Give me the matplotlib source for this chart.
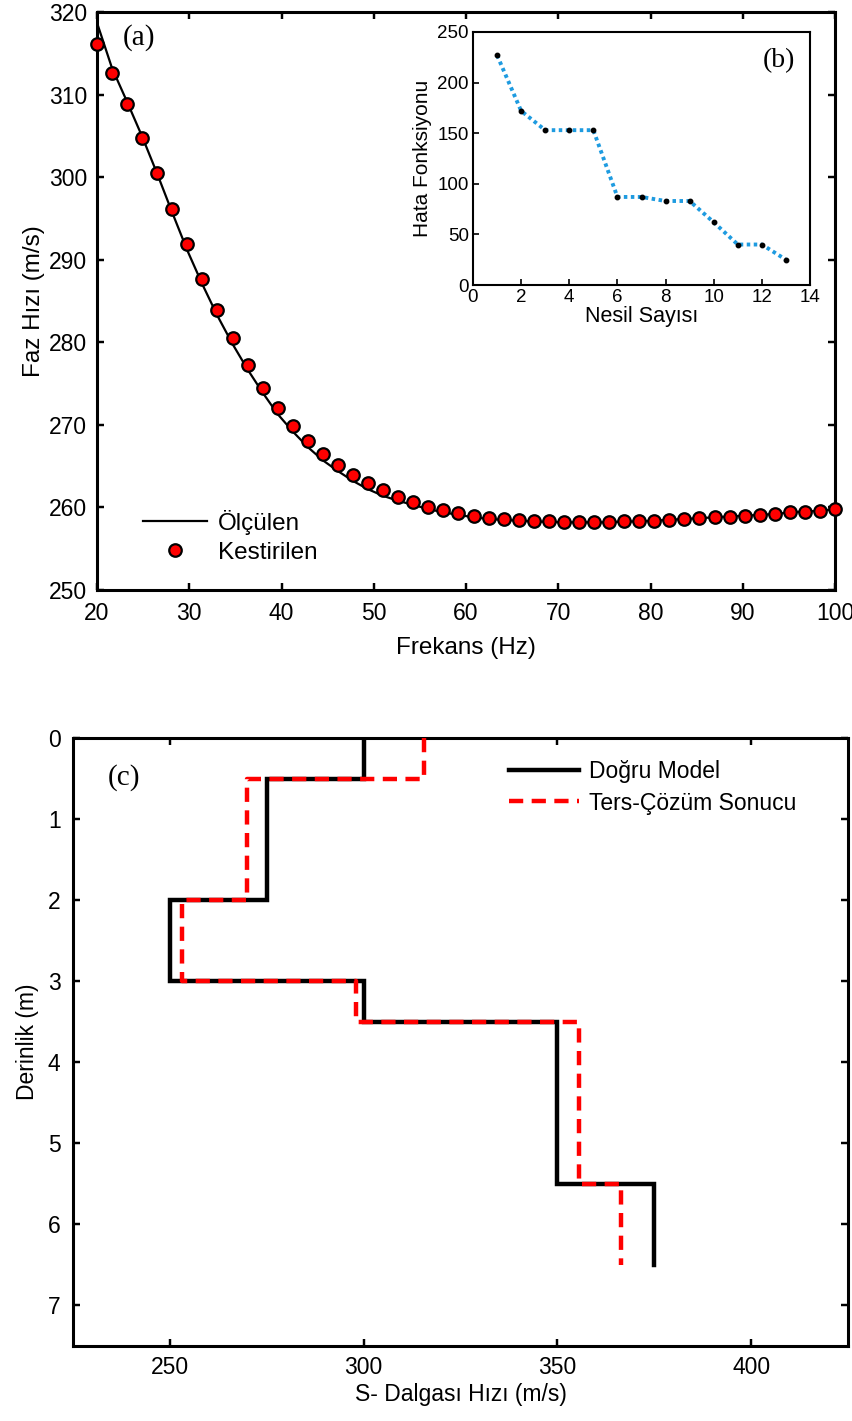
import matplotlib
matplotlib.use("Agg")
import matplotlib.pyplot as plt
import numpy as np

plt.rcParams['font.family'] = ['Liberation Sans', 'DejaVu Sans']

# ---------------- data ----------------
freq_hz = [20.00, 21.63, 23.27, 24.90, 26.53, 28.16, 29.80, 31.43, 33.06, 34.69,
           36.33, 37.96, 39.59, 41.22, 42.86, 44.49, 46.12, 47.76, 49.39, 51.02,
           52.65, 54.29, 55.92, 57.55, 59.18, 60.82, 62.45, 64.08, 65.71, 67.35,
           68.98, 70.61, 72.24, 73.88, 75.51, 77.14, 78.78, 80.41, 82.04, 83.67,
           85.31, 86.94, 88.57, 90.20, 91.84, 93.47, 95.10, 96.73, 98.37, 100.00]

estimated_vel = [316.1, 312.6, 308.9, 304.8, 300.5, 296.2, 291.9, 287.7, 283.9, 280.5,
                 277.3, 274.5, 272.1, 269.9, 268.0, 266.5, 265.1, 263.9, 262.9, 262.1,
                 261.3, 260.7, 260.1, 259.7, 259.3, 259.0, 258.7, 258.6, 258.5, 258.4,
                 258.3, 258.2, 258.2, 258.2, 258.2, 258.3, 258.3, 258.4, 258.5, 258.6,
                 258.7, 258.8, 258.9, 259.0, 259.1, 259.2, 259.4, 259.5, 259.6, 259.8]

measured_vel = [318.7, 313.2, 309.1, 304.9, 300.4, 295.7, 291.1, 287.0, 283.2, 279.8,
                276.7, 273.9, 271.3, 269.2, 267.3, 265.7, 264.4, 263.2, 262.2, 261.4,
                260.8, 260.3, 259.8, 259.4, 259.1, 258.8, 258.6, 258.5, 258.4, 258.3,
                258.25, 258.2, 258.2, 258.2, 258.2, 258.3, 258.3, 258.4, 258.5, 258.6,
                258.7, 258.8, 258.9, 259.0, 259.1, 259.2, 259.4, 259.5, 259.6, 259.8]

generation = [1, 2, 3, 4, 5, 6, 7, 8, 9, 10, 11, 12, 13]
misfit = [227, 172, 153, 153, 153, 87, 87, 83, 83, 62, 40, 40, 25]

# layer model: layer top/bottom depths and velocities
layer_top = [0.0, 0.5, 2.0, 3.0, 3.5, 5.5]
layer_bot = [0.5, 2.0, 3.0, 3.5, 5.5, 6.5]
true_vs = [300, 275, 250, 300, 350, 375]
inv_vs = [315.5, 270, 253, 298, 355.5, 366.5]

labels_a = ['Ölçülen', 'Kestirilen']
labels_c = ['Doğru Model', 'Ters-Çözüm Sonucu']


def step_profile(tops, bots, vs):
    xs, ys = [], []
    for t, b, v in zip(tops, bots, vs):
        xs += [v, v]
        ys += [t, b]
    return xs, ys


W, H = 852, 1421
fig = plt.figure(figsize=(W / 100, H / 100), dpi=100)


def style_axes(ax, lw=2.2, tick_len=5, labelsize=16.5, allsides=True, pad=7):
    for s in ax.spines.values():
        s.set_linewidth(lw)
    ax.tick_params(direction='in', length=tick_len, width=lw * 0.8,
                   labelsize=labelsize, top=allsides, right=allsides, pad=pad)


# ---------------- panel (a) ----------------
ax_a = fig.add_axes([97 / W, 1 - 590 / H, 738 / W, 578 / H])
ax_a.plot(freq_hz, measured_vel, color='black', lw=1.6, label=labels_a[0], zorder=2)
ax_a.plot(freq_hz, estimated_vel, linestyle='none', marker='o', ms=9,
          mfc='#ff0000', mec='black', mew=1.6, label=labels_a[1], zorder=3,
          clip_on=False)
ax_a.set_xlim(20, 100)
ax_a.set_ylim(250, 320)
ax_a.set_xticks(np.arange(20, 101, 10))
ax_a.set_yticks(np.arange(250, 321, 10))
style_axes(ax_a)
ax_a.tick_params(axis='x', pad=9)
ax_a.set_xlabel('Frekans (Hz)', fontsize=17.5, labelpad=8)
ax_a.set_ylabel('Faz Hızı (m/s)', fontsize=17.5, labelpad=3)
ax_a.text(0.035, 0.955, '(a)', transform=ax_a.transAxes, fontsize=21,
          family=['Liberation Serif', 'DejaVu Serif'], va='center', ha='left')
ax_a.legend(loc='upper left', bbox_to_anchor=(0.062, 0.139), frameon=False,
            fontsize=17.5, handlelength=2.63, handletextpad=0.45, labelspacing=0.3,
            borderaxespad=0, borderpad=0)

# ---------------- inset (b) ----------------
ax_b = fig.add_axes([473 / W, 1 - 285 / H, 337 / W, 253 / H])
ax_b.plot(generation, misfit, linestyle=(0, (0.9, 0.9)), color='#1e9be0', lw=2.8, zorder=2)
ax_b.plot(generation, misfit, linestyle='none', marker='o', ms=3.2, color='black', zorder=3)
ax_b.set_xlim(0, 14)
ax_b.set_ylim(0, 250)
ax_b.set_xticks(np.arange(0, 15, 2))
ax_b.set_yticks(np.arange(0, 251, 50))
for s in ax_b.spines.values():
    s.set_linewidth(1.5)
ax_b.tick_params(direction='in', length=4, width=1.2, labelsize=13.5, pad=3)
ax_b.set_xlabel('Nesil Sayısı', fontsize=15.5, labelpad=0)
ax_b.set_ylabel('Hata Fonksiyonu', fontsize=15, labelpad=4)
ax_b.text(0.86, 0.885, '(b)', transform=ax_b.transAxes, fontsize=20,
          family=['Liberation Serif', 'DejaVu Serif'], va='center', ha='left')

# ---------------- panel (c) ----------------
ax_c = fig.add_axes([73 / W, 1 - 1346 / H, 775 / W, 608 / H])
tx, ty = step_profile(layer_top, layer_bot, true_vs)
ix, iy = step_profile(layer_top, layer_bot, inv_vs)
ax_c.plot(tx, ty, color='black', lw=3.2, solid_joinstyle='miter', label=labels_c[0], zorder=2)
ax_c.plot(ix, iy, color='#ff0000', lw=3.2, linestyle=(0, (3.2, 1.9)), label=labels_c[1], zorder=3)
ax_c.set_xlim(225, 425)
ax_c.set_ylim(7.5, 0)
ax_c.set_xticks([250, 300, 350, 400])
ax_c.set_yticks(np.arange(0, 8, 1))
style_axes(ax_c, pad=7)
ax_c.tick_params(axis='y', pad=9)
ax_c.set_xlabel('S- Dalgası Hızı (m/s)', fontsize=16.5, labelpad=3)
ax_c.set_ylabel('Derinlik (m)', fontsize=16.5, labelpad=6)
ax_c.text(0.045, 0.935, '(c)', transform=ax_c.transAxes, fontsize=21,
          family=['Liberation Serif', 'DejaVu Serif'], va='center', ha='left')
ax_c.legend(loc='upper right', bbox_to_anchor=(0.934, 0.963), frameon=False,
            fontsize=16.5, handlelength=3.05, handletextpad=0.45, labelspacing=0.35,
            borderaxespad=0, borderpad=0)

fig.savefig('out.png', dpi=100)
